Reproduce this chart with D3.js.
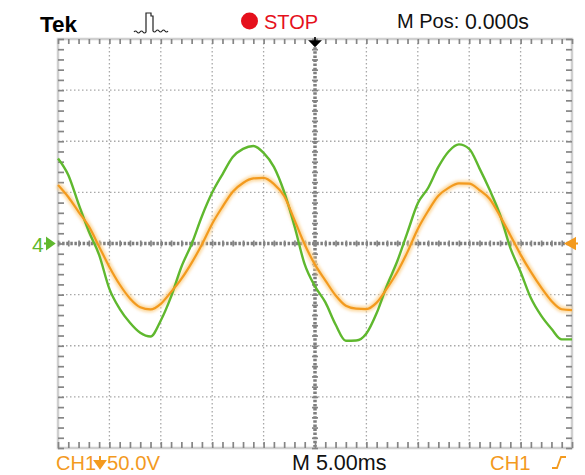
<!DOCTYPE html>
<head>
	<meta charset="utf-8">
	<title>Tek CH1</title>
	<script src="https://d3js.org/d3.v7.min.js"></script>
	<style>
		body { margin: 0; background: #fff; }
		text { font-family: "Liberation Sans", Arial, sans-serif; }
		.grid { stroke: #a8a8a8; stroke-width: 1.3; stroke-dasharray: 1.5 2.5; }
		.center { stroke: #7e7e7e; stroke-width: 3.5; stroke-dasharray: 2.5 1.6; }
		.ticks line { stroke: #858585; stroke-width: 1.7; }
		.ticks path { display: none; }
	</style>
</head>
<body>
	<div id="chart"></div>
	<script>
		var width = 585,
			height = 475;

		// time axis, ms (5 ms/div, 10 div)
		var times = d3.range(-25, 26, 1);
		// CH1 (orange), volts at 50 V/div
		var ch1 = [57.2, 45.5, 31.0, 16.7, -3.1, -22.9, -40.1, -53.7, -62.3, -64.5,
			-59.0, -47.4, -34.6, -18.9, -1.0, 19.4, 35.9, 50.7, 59.2, 63.6,
			64.1, 58.2, 46.5, 23.0, -1.0, -20.7, -36.0, -50.7, -60.9, -63.7,
			-64.1, -57.8, -43.9, -27.9, -8.2, 14.2, 31.8, 46.7, 54.5, 58.8,
			58.6, 52.3, 43.5, 26.8, 8.1, -10.9, -27.8, -43.0, -56.2, -64.3, -65.1];
		// channel 4 (green), same vertical scale
		var ch4 = [83.2, 67.0, 38.7, 11.7, -11.1, -44.4, -63.9, -77.5, -87.3, -91.0,
			-75.3, -52.0, -23.0, -0.5, 26.7, 49.8, 67.7, 84.6, 92.5, 95.4,
			88.6, 74.9, 50.4, 17.1, -20.5, -41.9, -57.4, -79.2, -95.1, -94.9,
			-88.0, -68.0, -41.0, -17.4, 11.1, 39.3, 54.3, 74.9, 90.0, 96.9,
			92.5, 73.5, 52.3, 28.1, -4.2, -27.8, -53.4, -70.6, -83.4, -93.8, -93.8];

		var majorX = d3.range(-25, 26, 5),
			majorY = d3.range(-200, 201, 50),
			minorX = d3.range(-25, 25.01, 1),
			minorY = d3.range(-200, 200.01, 10);

		var orange = "#f39a1e",
			green = "#5fb82e",
			red = "#e5101c";

		var svg = d3.select("#chart")
			.append("svg")
			.attr("width", width)
			.attr("height", height);

		var x = d3.scaleLinear().domain([-25, 25]).range([58, 572]);
		var y = d3.scaleLinear().domain([-200, 200]).range([448, 39]);

		var defs = svg.append("defs");
		defs.append("filter").attr("id", "glow")
			.attr("x", "-5%").attr("y", "-5%").attr("width", "110%").attr("height", "110%")
			.append("feGaussianBlur").attr("stdDeviation", 1.6);

		// graticule
		var g = svg.append("g");
		g.selectAll(".gx")
			.data(majorX.filter(function(d) { return d != 0 && Math.abs(d) != 25; }))
			.enter().append("line")
			.attr("class", "grid")
			.attr("x1", function(d) { return x(d); })
			.attr("x2", function(d) { return x(d); })
			.attr("y1", y(200)).attr("y2", y(-200));
		g.selectAll(".gy")
			.data(majorY.filter(function(d) { return d != 0 && Math.abs(d) != 200; }))
			.enter().append("line")
			.attr("class", "grid")
			.attr("x1", x(-25)).attr("x2", x(25))
			.attr("y1", function(d) { return y(d); })
			.attr("y2", function(d) { return y(d); });

		g.append("line").attr("class", "center")
			.attr("x1", x(0)).attr("x2", x(0)).attr("y1", y(200)).attr("y2", y(-200));
		g.append("line").attr("class", "center")
			.attr("x1", x(-25)).attr("x2", x(25)).attr("y1", y(0)).attr("y2", y(0));

		// border
		g.append("rect")
			.attr("x", x(-25)).attr("y", y(200))
			.attr("width", x(25) - x(-25)).attr("height", y(-200) - y(200))
			.attr("fill", "none").attr("stroke", "#cfcfcf").attr("stroke-width", 2.5);

		// minor ticks on the border
		g.append("g").attr("class", "ticks")
			.attr("transform", "translate(0," + y(200) + ")")
			.call(d3.axisTop(x).tickValues(minorX).tickSize(-5).tickFormat(""));
		g.append("g").attr("class", "ticks")
			.attr("transform", "translate(0," + y(-200) + ")")
			.call(d3.axisBottom(x).tickValues(minorX).tickSize(-6).tickFormat(""));
		g.append("g").attr("class", "ticks")
			.attr("transform", "translate(" + x(-25) + ",0)")
			.call(d3.axisLeft(y).tickValues(minorY).tickSize(-6).tickFormat(""));
		g.append("g").attr("class", "ticks")
			.attr("transform", "translate(" + x(25) + ",0)")
			.call(d3.axisRight(y).tickValues(minorY).tickSize(-6).tickFormat(""));

		// minor ticks across the center lines
		g.append("g").attr("class", "ticks")
			.attr("transform", "translate(0," + (y(0) + 3) + ")")
			.call(d3.axisTop(x).tickValues(minorX).tickSize(6).tickFormat(""));
		g.append("g").attr("class", "ticks")
			.attr("transform", "translate(" + (x(0) + 3) + ",0)")
			.call(d3.axisLeft(y).tickValues(minorY).tickSize(6).tickFormat(""));

		// traces
		var line = d3.line()
			.x(function(d) { return x(d[0]); })
			.y(function(d) { return y(d[1]); })
			.curve(d3.curveMonotoneX);

		var orangeData = d3.zip(times, ch1),
			greenData = d3.zip(times, ch4);

		svg.append("path").datum(orangeData)
			.attr("d", line).attr("fill", "none")
			.attr("stroke", "#fbcf8a").attr("stroke-width", 6)
			.attr("stroke-opacity", 0.8).attr("filter", "url(#glow)");
		svg.append("path").datum(greenData)
			.attr("d", line).attr("fill", "none")
			.attr("stroke", green).attr("stroke-width", 2.4)
			.attr("stroke-linejoin", "round");
		svg.append("path").datum(orangeData)
			.attr("d", line).attr("fill", "none")
			.attr("stroke", orange).attr("stroke-width", 2.2)
			.attr("stroke-linejoin", "round");

		// markers
		svg.append("text").attr("x", 32).attr("y", y(0) + 8)
			.attr("font-size", 21).attr("fill", green).text("4");
		svg.append("path")
			.attr("d", "M44," + y(0) + "H50M47," + (y(0) - 5) + "L54," + y(0) + "L47," + (y(0) + 5) + "Z")
			.attr("stroke", green).attr("stroke-width", 2).attr("fill", green);
		svg.append("path")
			.attr("d", "M572," + y(0) + "H578M575," + (y(0) - 5) + "L566," + y(0) + "L575," + (y(0) + 5) + "Z")
			.attr("stroke", orange).attr("stroke-width", 2).attr("fill", orange);
		svg.append("path")
			.attr("d", "M" + x(0) + ",37V45M" + (x(0) - 5) + ",41L" + x(0) + ",46L" + (x(0) + 5) + ",41Z")
			.attr("stroke", "#000").attr("stroke-width", 1.6).attr("fill", "#000");

		// header
		svg.append("text").attr("x", 40).attr("y", 32)
			.attr("font-size", 22.5).attr("font-weight", "bold").text("Tek");
		svg.append("path")
			.attr("d", "M134,32 q1.5,-2 3,0 q1.5,2 3,0 q1.5,-2 3,0 q1.5,2 3,0 L146,13 L151,13 L151,16 L153,16 L153,31 q1.5,2 3,0 q1.5,-2 3,0 q1.5,2 3,0 q1.5,-2 3,0 q1.5,2 3,0")
			.attr("fill", "none").attr("stroke", "#222").attr("stroke-width", 1.2);
		svg.append("circle").attr("cx", 249.5).attr("cy", 21).attr("r", 8.5).attr("fill", red);
		svg.append("text").attr("x", 264).attr("y", 29)
			.attr("font-size", 20).attr("fill", red).text("STOP");
		svg.append("text").attr("x", 397).attr("y", 28)
			.attr("font-size", 20).attr("fill", "#111").text("M Pos:");
		svg.append("text").attr("x", 465).attr("y", 28.5)
			.attr("font-size", 21.3).attr("fill", "#111").text("0.000s");

		// footer
		svg.append("text").attr("x", 56).attr("y", 470)
			.attr("font-size", 20).attr("fill", orange).text("CH1");
		svg.append("path")
			.attr("d", "M100,456V465M95,461L100,468L105,461Z")
			.attr("stroke", orange).attr("stroke-width", 2).attr("fill", orange);
		svg.append("text").attr("x", 107).attr("y", 470)
			.attr("font-size", 20.3).attr("fill", orange).text("50.0V");
		svg.append("text").attr("x", 292).attr("y", 470)
			.attr("font-size", 21.5).attr("fill", "#111").text("M 5.00ms");
		svg.append("text").attr("x", 490).attr("y", 470)
			.attr("font-size", 20.3).attr("fill", orange).text("CH1");
		svg.append("path")
			.attr("d", "M552,468H557L561,457H566")
			.attr("fill", "none").attr("stroke", orange).attr("stroke-width", 1.8);
	</script>
</body>
